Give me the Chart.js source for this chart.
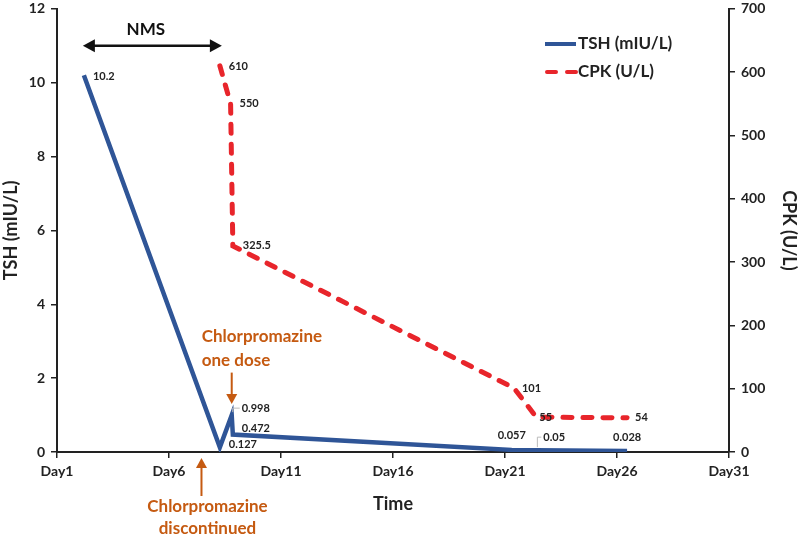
<!DOCTYPE html>
<html>
<head>
<meta charset="utf-8">
<script src="https://cdn.jsdelivr.net/npm/chart.js@4"></script>
<style>
  html, body { margin: 0; padding: 0; background: #fff; }
  #wrap { width: 800px; height: 537px; position: relative; }
</style>
</head>
<body>
<div id="wrap"><canvas id="chart"></canvas></div>
<script>
// === Dati ===
const tshDays = [2.2, 8.27, 8.8, 8.85, 21.3, 22.4, 26.45];
const tshValues = [10.2, 0.127, 0.998, 0.472, 0.057, 0.05, 0.028];
const tshLabels = ["10.2", "0.127", "0.998", "0.472", "0.057", "0.05", "0.028"];

const cpkDays = [8.27, 8.75, 8.85, 21.4, 22.4, 26.45];
const cpkValues = [610, 550, 325.5, 101, 55, 54];
const cpkLabels = ["610", "550", "325.5", "101", "55", "54"];

const dayTicks = [1, 6, 11, 16, 21, 26, 31];
const nmsRange = [2.2, 8.27];     // giorni della freccia NMS
const oneDoseDay = 8.8;           // Chlorpromazine one dose
const stopDay = 7.45;             // Chlorpromazine discontinued

const FONT = "Lato, 'Open Sans', sans-serif";
const BLUE = "#2F5597";
const RED = "#E8252B";
const ORANGE = "#C55A11";
const INK = "#222";

// posizione etichette: [dx, dy, allineamento]
const tshOffsets = [[9, 1, "left"], [9, -3, "left"], [10, -7, "left"], [9, -6, "left"],
                    [0, -14, "center"], [7, -13, "left"], [0, -14, "center"]];
const cpkOffsets = [[9, 1, "left"], [9, 0, "left"], [10, 0, "left"], [8, 0, "left"],
                    [3, 0, "left"], [8, 0, "left"]];
const tshLeaders = [false, false, true, false, false, true, false];

function arrowHead(ctx, x, y, angle, size) {
  ctx.save();
  ctx.translate(x, y);
  ctx.rotate(angle);
  ctx.beginPath();
  ctx.moveTo(0, 0);
  ctx.lineTo(-size, -size * 0.55);
  ctx.lineTo(-size, size * 0.55);
  ctx.closePath();
  ctx.fill();
  ctx.restore();
}

const annotations = {
  id: "annotations",
  afterDatasetsDraw(chart) {
    const { ctx, chartArea, scales } = chart;
    const x = scales.x, yL = scales.yTSH;

    // etichette dei punti
    ctx.save();
    ctx.font = "bold 11px " + FONT;
    ctx.fillStyle = INK;
    ctx.textBaseline = "middle";
    chart.getDatasetMeta(0).data.forEach((pt, i) => {
      const [dx, dy, al] = tshOffsets[i];
      ctx.textAlign = al;
      ctx.fillText(tshLabels[i], pt.x + dx, pt.y + dy);
      if (tshLeaders[i]) {
        ctx.strokeStyle = "#bbb";
        ctx.lineWidth = 1;
        ctx.beginPath();
        ctx.moveTo(pt.x + 1, pt.y - 3);
        ctx.lineTo(pt.x + 1, pt.y + dy);
        ctx.lineTo(pt.x + dx - 2, pt.y + dy);
        ctx.stroke();
      }
    });
    chart.getDatasetMeta(1).data.forEach((pt, i) => {
      const [dx, dy, al] = cpkOffsets[i];
      ctx.textAlign = al;
      ctx.fillText(cpkLabels[i], pt.x + dx, pt.y + dy);
    });
    ctx.restore();

    // freccia NMS
    ctx.save();
    const nx1 = x.getPixelForValue(nmsRange[0]);
    const nx2 = x.getPixelForValue(nmsRange[1]);
    const ny = yL.getPixelForValue(11);
    ctx.strokeStyle = "#111";
    ctx.fillStyle = "#111";
    ctx.lineWidth = 2.5;
    ctx.beginPath();
    ctx.moveTo(nx1 + 6, ny);
    ctx.lineTo(nx2 - 6, ny);
    ctx.stroke();
    arrowHead(ctx, nx1 - 1, ny, Math.PI, 12);
    arrowHead(ctx, nx2 + 2, ny, 0, 12);
    ctx.font = "bold 17px " + FONT;
    ctx.textAlign = "center";
    ctx.textBaseline = "middle";
    ctx.fillText("NMS", (nx1 + nx2) / 2 - 6, ny - 16);
    ctx.restore();

    // Chlorpromazine one dose
    ctx.save();
    ctx.strokeStyle = ORANGE;
    ctx.fillStyle = ORANGE;
    ctx.lineWidth = 2;
    const ax = x.getPixelForValue(oneDoseDay);
    const aTop = yL.getPixelForValue(2.15);
    const aTip = yL.getPixelForValue(1.3);
    ctx.beginPath();
    ctx.moveTo(ax, aTop);
    ctx.lineTo(ax, aTip - 8);
    ctx.stroke();
    arrowHead(ctx, ax, aTip, Math.PI / 2, 10);
    ctx.font = "bold 17px " + FONT;
    ctx.textAlign = "left";
    ctx.textBaseline = "middle";
    ctx.fillText("Chlorpromazine", ax - 30, aTop - 36);
    ctx.fillText("one dose", ax - 30, aTop - 12);

    // Chlorpromazine discontinued
    const bx = x.getPixelForValue(stopDay);
    const bTip = chartArea.bottom + 6;
    const bBot = chartArea.bottom + 44;
    ctx.beginPath();
    ctx.moveTo(bx, bBot);
    ctx.lineTo(bx, bTip + 8);
    ctx.stroke();
    arrowHead(ctx, bx, bTip, -Math.PI / 2, 10);
    ctx.textAlign = "center";
    ctx.fillText("Chlorpromazine", bx + 6, chartArea.bottom + 55);
    ctx.fillText("discontinued", bx + 6, chartArea.bottom + 77);
    ctx.restore();

    // legenda
    ctx.save();
    const lx = 545;
    const ly1 = 44;
    const ly2 = 72;
    ctx.lineWidth = 4;
    ctx.strokeStyle = BLUE;
    ctx.beginPath();
    ctx.moveTo(lx, ly1);
    ctx.lineTo(lx + 31, ly1);
    ctx.stroke();
    ctx.strokeStyle = RED;
    ctx.lineCap = "round";
    ctx.setLineDash([9, 11]);
    ctx.beginPath();
    ctx.moveTo(lx + 2, ly2);
    ctx.lineTo(lx + 31, ly2);
    ctx.stroke();
    ctx.setLineDash([]);
    ctx.fillStyle = INK;
    ctx.font = "bold 17px " + FONT;
    ctx.textAlign = "left";
    ctx.textBaseline = "middle";
    ctx.fillText("TSH (mIU/L)", lx + 33, ly1);
    ctx.fillText("CPK (U/L)", lx + 33, ly2);
    ctx.restore();
  }
};

const tickFont = { family: FONT, size: 14, weight: "bold" };
const yTickFont = { family: FONT, size: 14, weight: "bold", lineHeight: 0.4 };
const titleFont = { family: FONT, size: 18, weight: "bold" };
const axisGrid = { drawOnChartArea: false, drawTicks: true, tickLength: 6, color: "#222", lineWidth: 1.5 };
const axisBorder = { display: true, color: "#222", width: 2 };

new Chart(document.getElementById("chart"), {
  type: "line",
  data: {
    datasets: [
      {
        label: "TSH (mIU/L)",
        data: tshDays.map((d, i) => ({ x: d, y: tshValues[i] })),
        borderColor: BLUE,
        borderWidth: 4.5,
        pointRadius: 0,
        tension: 0,
        yAxisID: "yTSH"
      },
      {
        label: "CPK (U/L)",
        data: cpkDays.map((d, i) => ({ x: d, y: cpkValues[i] })),
        borderColor: RED,
        borderWidth: 5,
        borderDash: [9, 11],
        borderCapStyle: "round",
        pointRadius: 0,
        tension: 0,
        yAxisID: "yCPK"
      }
    ]
  },
  options: {
    responsive: true,
    maintainAspectRatio: false,
    animation: false,
    layout: { padding: { top: 6, left: 0, right: 0, bottom: 22 } },
    plugins: {
      legend: { display: false },
      tooltip: { enabled: false }
    },
    scales: {
      x: {
        type: "linear",
        min: 1,
        max: 31,
        afterBuildTicks: s => { s.ticks = dayTicks.map(v => ({ value: v })); },
        afterFit: s => { s.height = 63; },
        ticks: {
          callback: v => "Day" + v,
          color: INK,
          font: tickFont,
          padding: 5,
          maxRotation: 0
        },
        grid: axisGrid,
        border: axisBorder,
        title: { display: true, text: "Time", color: INK, font: titleFont, padding: { top: 4, bottom: 0 } }
      },
      yTSH: {
        position: "left",
        min: 0,
        max: 12,
        afterFit: s => { s.width = 57; },
        ticks: { stepSize: 2, color: INK, font: yTickFont, padding: 6 },
        grid: axisGrid,
        border: axisBorder,
        title: { display: true, text: "TSH (mIU/L)", color: INK, font: titleFont, padding: 0 }
      },
      yCPK: {
        position: "right",
        min: 0,
        max: 700,
        afterFit: s => { s.width = 71; },
        ticks: { stepSize: 100, color: INK, font: yTickFont, padding: 6 },
        grid: axisGrid,
        border: axisBorder,
        title: { display: true, text: "CPK (U/L)", color: INK, font: titleFont, padding: 0 }
      }
    }
  },
  plugins: [annotations]
});
</script>
</body>
</html>
